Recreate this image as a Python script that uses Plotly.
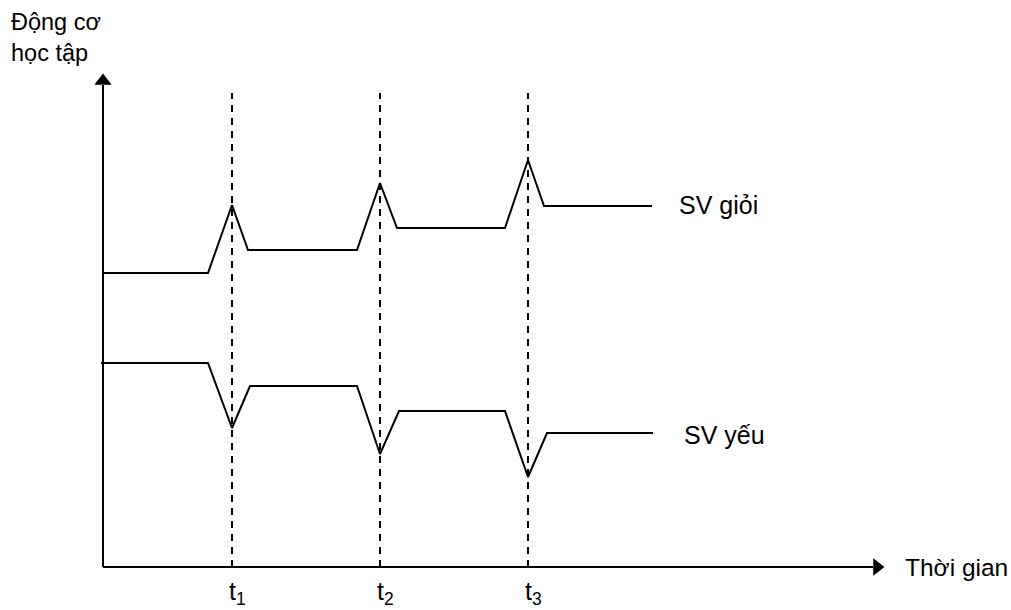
import plotly.graph_objects as go

# Time (horizontal, units from the origin) and motivation (vertical) values
time_gioi = [0, 105, 129, 145, 254, 277, 294, 402, 425, 441, 549]
motivation_gioi = [294, 294, 362, 317, 317, 384, 339, 339, 407, 361, 361]

time_yeu = [-2, 105, 129, 147, 254, 277, 296, 402, 425, 444, 550]
motivation_yeu = [204, 204, 139, 181, 181, 113, 156, 156, 90, 134, 134]

t_marks = [129, 277, 425]
t_labels = ["t<sub>1</sub>", "t<sub>2</sub>", "t<sub>3</sub>"]
dash_top = 474

series_names = ["SV giỏi", "SV yếu"]
y_title = "Động cơ<br>học tập"
x_title = "Thời gian"

x_axis_end = 770
y_axis_end = 482

FONT = "Arial, Liberation Sans, sans-serif"
BLACK = "#000000"

fig = go.Figure()

# dashed time markers
for t in t_marks:
    fig.add_trace(go.Scatter(x=[t, t], y=[0, dash_top], mode="lines",
                             line=dict(color=BLACK, width=2, dash="7px,6px"),
                             hoverinfo="skip", showlegend=False))

# axes lines
fig.add_trace(go.Scatter(x=[0, x_axis_end], y=[0, 0], mode="lines",
                         line=dict(color=BLACK, width=2), showlegend=False, hoverinfo="skip"))
fig.add_trace(go.Scatter(x=[0, 0], y=[0, y_axis_end], mode="lines",
                         line=dict(color=BLACK, width=2), showlegend=False, hoverinfo="skip"))
# arrow heads
fig.add_trace(go.Scatter(x=[x_axis_end + 4], y=[0], mode="markers",
                         marker=dict(symbol="triangle-right", size=15, color=BLACK),
                         showlegend=False, hoverinfo="skip"))
fig.add_trace(go.Scatter(x=[0], y=[y_axis_end + 4], mode="markers",
                         marker=dict(symbol="triangle-up", size=15, color=BLACK),
                         showlegend=False, hoverinfo="skip"))

# series
fig.add_trace(go.Scatter(x=time_gioi, y=motivation_gioi, mode="lines",
                         line=dict(color=BLACK, width=2), name=series_names[0], showlegend=False))
fig.add_trace(go.Scatter(x=time_yeu, y=motivation_yeu, mode="lines",
                         line=dict(color=BLACK, width=2), name=series_names[1], showlegend=False))

ann = []
ann.append(dict(x=time_gioi[-1] + 25, y=motivation_gioi[-1] + 1, text=series_names[0],
                xanchor="left", yanchor="middle", size=25))
ann.append(dict(x=time_yeu[-1] + 29, y=motivation_yeu[-1] - 2, text=series_names[1],
                xanchor="left", yanchor="middle", size=25))
ann.append(dict(x=800, y=0, text=x_title, xanchor="left", yanchor="middle", size=24.5))
ann.append(dict(x=-94, y=560, text=y_title, xanchor="left", yanchor="top", align="left", size=23.5))
for t, lab in zip(t_marks, t_labels):
    ann.append(dict(x=t - 5, y=-8, text=lab, xanchor="left", yanchor="top", size=25))

for a in ann:
    sz = a.pop("size")
    a.update(xref="x", yref="y", showarrow=False,
             font=dict(family=FONT, size=sz, color=BLACK))

fig.update_layout(
    width=1011, height=610,
    margin=dict(l=0, r=0, t=0, b=0, pad=0),
    paper_bgcolor="white", plot_bgcolor="white",
    xaxis=dict(range=[-103, 908], visible=False, fixedrange=True),
    yaxis=dict(range=[-43, 567], visible=False, fixedrange=True),
    annotations=ann,
    showlegend=False,
)

fig.write_html("out.html", config={"displayModeBar": False},
               post_script="document.body.style.margin='0';document.body.style.overflow='hidden';")
